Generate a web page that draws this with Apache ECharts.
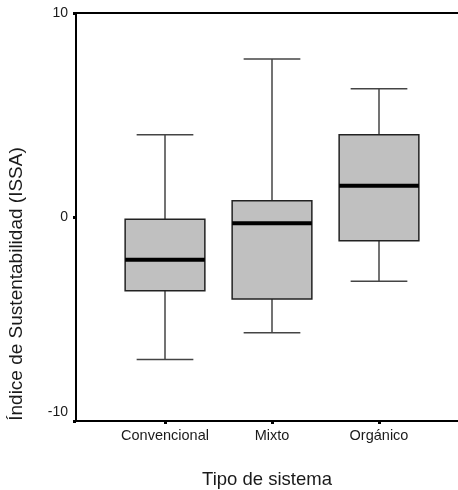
<!DOCTYPE html>
<html>
<head>
<meta charset="utf-8">
<script src="https://cdn.jsdelivr.net/npm/echarts@6/dist/echarts.min.js"></script>
<style>
html,body{margin:0;padding:0;background:#fff;}
#c{width:458px;height:490px;}
</style>
</head>
<body>
<div id="c"></div>
<script>
var categories = ['Convencional', 'Mixto', 'Orgánico'];
var whiskerLow = [-6.98, -5.67, -3.15];
var q1 = [-3.61, -4.02, -1.16];
var median = [-2.09, -0.31, 1.53];
var q3 = [-0.11, 0.80, 4.03];
var whiskerHigh = [4.03, 7.75, 6.29];
var yTicks = [-10, 0, 10];

var boxData = categories.map(function (c, i) {
  return [i, whiskerLow[i], q1[i], median[i], q3[i], whiskerHigh[i]];
});

var FONT = 'Liberation Sans, Arial, sans-serif';
var chart = echarts.init(document.getElementById('c'));

function renderBox(params, api) {
  var i = api.value(0);
  var pLow = api.coord([i, api.value(1)]);
  var pQ1 = api.coord([i, api.value(2)]);
  var pMed = api.coord([i, api.value(3)]);
  var pQ3 = api.coord([i, api.value(4)]);
  var pHigh = api.coord([i, api.value(5)]);
  var band = api.size([1, 0])[0];
  var cx = pMed[0];
  var bw = band * 0.745;
  var cw = band * 0.53;
  var wStyle = { stroke: '#444', lineWidth: 1.5, fill: null };
  return {
    type: 'group',
    children: [
      { type: 'line', shape: { x1: cx, y1: pHigh[1], x2: cx, y2: pQ3[1] }, style: wStyle },
      { type: 'line', shape: { x1: cx, y1: pQ1[1], x2: cx, y2: pLow[1] }, style: wStyle },
      { type: 'line', shape: { x1: cx - cw / 2, y1: pHigh[1], x2: cx + cw / 2, y2: pHigh[1] }, style: wStyle },
      { type: 'line', shape: { x1: cx - cw / 2, y1: pLow[1], x2: cx + cw / 2, y2: pLow[1] }, style: wStyle },
      { type: 'rect', shape: { x: cx - bw / 2, y: pQ3[1], width: bw, height: pQ1[1] - pQ3[1] },
        style: { fill: '#c0c0c0', stroke: '#222', lineWidth: 1.5 } },
      { type: 'line', shape: { x1: cx - bw / 2, y1: pMed[1], x2: cx + bw / 2, y2: pMed[1] },
        style: { stroke: '#000', lineWidth: 4 } }
    ]
  };
}

chart.setOption({
  animation: false,
  backgroundColor: '#fff',
  grid: [
    { left: 76, right: 0, top: 13, bottom: 69, containLabel: false, outerBoundsMode: 'none' },
    { left: 111.5, width: 321, top: 13, bottom: 69, containLabel: false, outerBoundsMode: 'none' }
  ],
  xAxis: [
    { type: 'value', gridIndex: 0, min: 0, max: 1, position: 'bottom',
      axisLine: { show: true, onZero: false, lineStyle: { color: '#000', width: 2 } },
      axisTick: { show: false }, axisLabel: { show: false }, splitLine: { show: false },
      name: 'Tipo de sistema', nameLocation: 'middle', nameGap: 49,
      nameTextStyle: { fontFamily: FONT, fontSize: 18.5, color: '#1a1a1a' } },
    { type: 'value', gridIndex: 0, min: 0, max: 1, position: 'top',
      axisLine: { show: true, onZero: false, lineStyle: { color: '#000', width: 2 } },
      axisTick: { show: false }, axisLabel: { show: false }, splitLine: { show: false } },
    { type: 'category', gridIndex: 1, data: categories, position: 'bottom',
      axisLine: { show: true, onZero: false, lineStyle: { color: 'rgba(0,0,0,0)', width: 0 } },
      axisTick: { show: true, alignWithLabel: true, interval: 0, length: 3, lineStyle: { color: '#000', width: 3 } },
      axisLabel: { fontFamily: FONT, fontSize: 14.5, color: '#1a1a1a', margin: 7, interval: 0, hideOverlap: false } }
  ],
  yAxis: [
    { type: 'value', gridIndex: 0, min: -10, max: 10, interval: 10,
      axisLine: { show: true, onZero: false, lineStyle: { color: '#000', width: 2 } },
      axisTick: { show: true, length: 3, lineStyle: { color: '#000', width: 3 } },
      axisLabel: { fontFamily: FONT, fontSize: 14, color: '#1a1a1a', margin: 8,
        formatter: function (v) {
          if (yTicks.indexOf(v) < 0) return '';
          return v === -10 ? '{lo|' + v + '}' : String(v);
        },
        rich: { lo: { fontFamily: FONT, fontSize: 14, color: '#1a1a1a', padding: [0, 0, 18, 0] } } },
      splitLine: { show: false } },
    { type: 'value', gridIndex: 1, min: -10, max: 10, show: false }
  ],
  graphic: [
    { type: 'text', x: 17, y: 284, rotation: Math.PI / 2,
      style: { text: 'Índice de Sustentabilidad (ISSA)', fontFamily: FONT, fontSize: 19,
        fill: '#1a1a1a', align: 'center', verticalAlign: 'middle' } }
  ],
  series: [
    { type: 'custom', xAxisIndex: 2, yAxisIndex: 1, data: boxData,
      encode: { x: 0, y: [1, 2, 3, 4, 5] }, renderItem: renderBox }
  ]
});
</script>
</body>
</html>
